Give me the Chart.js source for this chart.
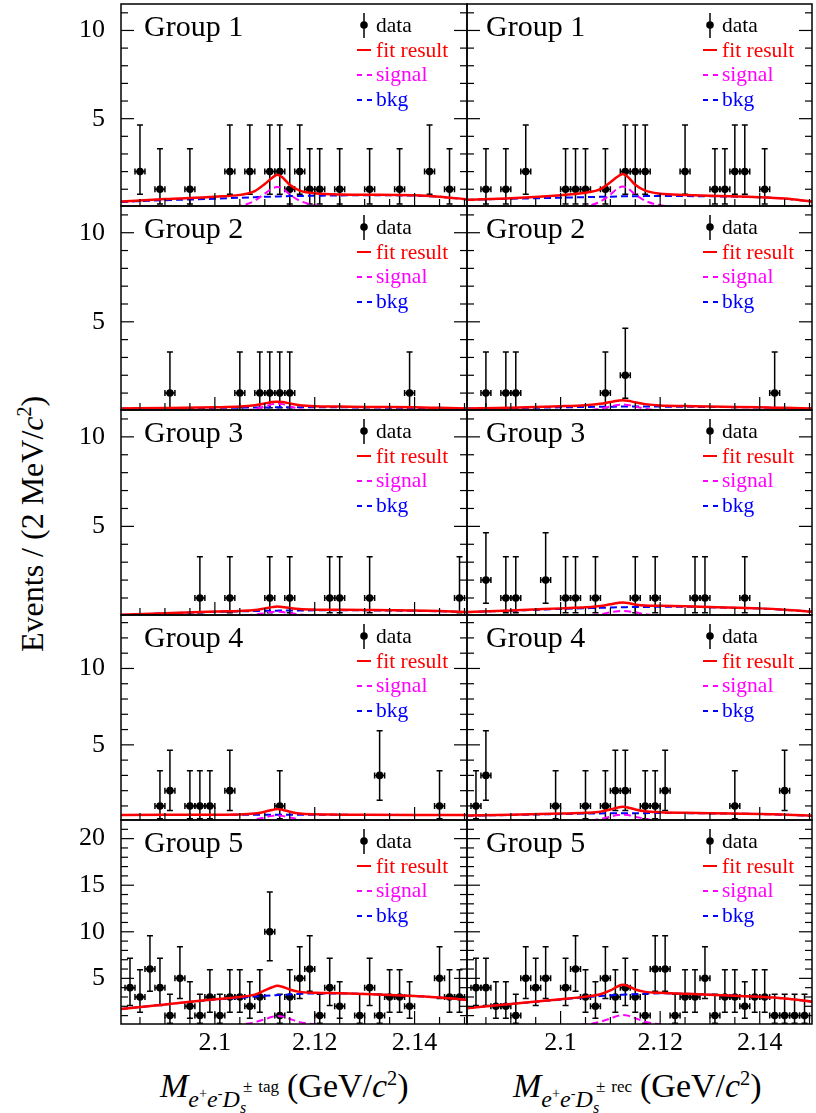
<!DOCTYPE html>
<html>
<head>
<meta charset="utf-8">
<title>Group fits</title>
<script src="https://cdn.jsdelivr.net/npm/chart.js@4.4.1/dist/chart.umd.min.js"></script>
<style>
  html, body { margin: 0; padding: 0; background: #fff; }
  #page { position: relative; width: 816px; height: 1113px; overflow: hidden;
          font-family: "Liberation Serif", "Times New Roman", Times, serif; color: #000; }
  #page canvas { position: absolute; left: 0; top: 0; }
  .ytitle { position: absolute; left: 8px; top: 652px; font-size: 32px; line-height: 32px;
            white-space: nowrap; transform-origin: 0 0; transform: rotate(-90deg); }
  .xtitle { position: absolute; top: 1061px; font-size: 34px; line-height: 34px; white-space: nowrap; }
  .xtitle .sb { font-size: 24px; position: relative; top: 10px; }
  .xtitle .ss { font-size: 16px; position: relative; top: 6px; display: inline-block; width: 0; }
  .xtitle .tg { font-size: 17px; position: relative; top: -15px; margin-left: 3px; margin-right: 8px; }
  .xtitle .tg span { margin-left: 6px; }
  .xtitle sup { font-size: 60%; }
</style>
</head>
<body>
<div id="page">
  <div class="ytitle">Events / (2 MeV/<i>c</i><sup style="font-size:20px">2</sup>)</div>
  <div class="xtitle" style="left:160px"><i>M</i><span class="sb"><i>e</i><sup>+</sup><i>e</i><sup>-</sup><i>D</i><span class="ss"><i>s</i></span><span class="tg">&#177;<span>tag</span></span></span>(GeV/<i>c</i><sup>2</sup>)</div>
  <div class="xtitle" style="left:513px"><i>M</i><span class="sb"><i>e</i><sup>+</sup><i>e</i><sup>-</sup><i>D</i><span class="ss"><i>s</i></span><span class="tg">&#177;<span>rec</span></span></span>(GeV/<i>c</i><sup>2</sup>)</div>
</div>
<script>
// ---- axes ----
const xMin = 2.0812, xMax = 2.1505;
const binWidth = 0.002;
const xLabelTicks = [2.1, 2.12, 2.14];
const xMinorTicks = [2.085, 2.09, 2.095, 2.105, 2.11, 2.115, 2.125, 2.13, 2.135, 2.145, 2.15];
const yMinByGroup = [0.05, 0.05, 0.05, 0.08, 0.1];
const yMaxByGroup = [11.5, 11.5, 11.5, 13.5, 22];
const yLabelTicks = [5, 10];
const yLabelTicksG5 = [5, 10, 15, 20];

// Poisson error bar ends, per count
const errCounts = [1, 2, 3, 4, 5, 6, 10];
const errLow = [0.17, 0.71, 1.37, 2.09, 2.84, 3.62, 6.89];
const errHigh = [3.30, 4.64, 5.92, 7.16, 8.38, 9.58, 14.27];

// x positions where the fit curves were read
const curveX = [2.0812, 2.09, 2.1, 2.105, 2.108, 2.110, 2.1115, 2.1125, 2.1135, 2.115, 2.117, 2.12, 2.125, 2.13, 2.14, 2.145, 2.1505];
const signalX = [2.104, 2.106, 2.108, 2.110, 2.1115, 2.1125, 2.1135, 2.115, 2.117, 2.119, 2.121];

// ---- Group 1 ----
const g1TagX = [2.085, 2.089, 2.095, 2.103, 2.107, 2.111, 2.113, 2.115, 2.117, 2.119, 2.121, 2.125, 2.131, 2.137, 2.143, 2.147];
const g1TagN = [2, 1, 1, 2, 2, 2, 2, 1, 2, 1, 1, 1, 1, 1, 2, 1];
const g1TagFit = [0.30, 0.44, 0.58, 0.68, 0.90, 1.30, 1.65, 1.82, 1.68, 1.25, 0.92, 0.77, 0.70, 0.69, 0.66, 0.58, 0.43];
const g1TagBkg = [0.28, 0.38, 0.46, 0.52, 0.55, 0.57, 0.58, 0.59, 0.60, 0.61, 0.62, 0.63, 0.65, 0.66, 0.64, 0.57, 0.42];
const g1TagSig = [0.02, 0.12, 0.35, 0.75, 1.05, 1.12, 1.05, 0.70, 0.35, 0.15, 0.05];

const g1RecX = [2.085, 2.089, 2.093, 2.101, 2.103, 2.105, 2.109, 2.113, 2.115, 2.117, 2.125, 2.131, 2.133, 2.135, 2.137, 2.141];
const g1RecN = [1, 1, 2, 1, 1, 1, 1, 2, 2, 2, 2, 1, 1, 2, 2, 1];
const g1RecFit = [0.40, 0.49, 0.66, 0.80, 1.00, 1.40, 1.72, 1.86, 1.70, 1.25, 0.92, 0.75, 0.68, 0.63, 0.55, 0.47, 0.30];
const g1RecBkg = [0.40, 0.46, 0.52, 0.55, 0.57, 0.58, 0.59, 0.60, 0.60, 0.60, 0.61, 0.61, 0.61, 0.60, 0.55, 0.47, 0.30];
const g1RecSig = [0.02, 0.10, 0.30, 0.70, 1.05, 1.15, 1.05, 0.70, 0.35, 0.15, 0.05];

// ---- Group 2 ----
const g2TagX = [2.091, 2.105, 2.109, 2.111, 2.113, 2.115, 2.139];
const g2TagN = [1, 1, 1, 1, 1, 1, 1];
const g2TagFit = [0.14, 0.16, 0.20, 0.24, 0.32, 0.42, 0.50, 0.52, 0.50, 0.42, 0.32, 0.26, 0.24, 0.22, 0.20, 0.17, 0.14];
const g2TagBkg = [0.13, 0.15, 0.17, 0.18, 0.19, 0.19, 0.20, 0.20, 0.20, 0.20, 0.20, 0.20, 0.20, 0.19, 0.17, 0.15, 0.13];
const g2TagSig = [0.00, 0.03, 0.10, 0.25, 0.38, 0.42, 0.38, 0.25, 0.10, 0.04, 0.00];

const g2RecX = [2.085, 2.089, 2.091, 2.109, 2.113, 2.143];
const g2RecN = [1, 1, 1, 1, 2, 1];
const g2RecFit = [0.14, 0.18, 0.26, 0.32, 0.40, 0.50, 0.57, 0.60, 0.57, 0.48, 0.38, 0.30, 0.27, 0.24, 0.20, 0.17, 0.14];
const g2RecBkg = [0.13, 0.16, 0.20, 0.22, 0.23, 0.23, 0.24, 0.24, 0.24, 0.24, 0.24, 0.24, 0.23, 0.22, 0.19, 0.16, 0.13];
const g2RecSig = [0.00, 0.04, 0.12, 0.25, 0.33, 0.36, 0.33, 0.25, 0.12, 0.05, 0.00];

// ---- Group 3 ----
const g3TagX = [2.097, 2.103, 2.111, 2.115, 2.123, 2.125, 2.131, 2.149];
const g3TagN = [1, 1, 1, 1, 1, 1, 1, 1];
const g3TagFit = [0.06, 0.15, 0.24, 0.28, 0.33, 0.42, 0.49, 0.52, 0.50, 0.44, 0.38, 0.35, 0.34, 0.33, 0.30, 0.27, 0.22];
const g3TagBkg = [0.05, 0.14, 0.22, 0.25, 0.27, 0.28, 0.29, 0.29, 0.30, 0.30, 0.30, 0.31, 0.31, 0.31, 0.28, 0.26, 0.21];
const g3TagSig = [0.00, 0.03, 0.08, 0.16, 0.22, 0.24, 0.22, 0.16, 0.08, 0.03, 0.00];

const g3RecX = [2.085, 2.089, 2.091, 2.097, 2.101, 2.103, 2.107, 2.115, 2.119, 2.127, 2.129, 2.137];
const g3RecN = [2, 1, 1, 2, 1, 1, 1, 1, 1, 1, 1, 1];
const g3RecFit = [0.22, 0.30, 0.42, 0.48, 0.55, 0.65, 0.72, 0.75, 0.72, 0.64, 0.58, 0.56, 0.54, 0.50, 0.42, 0.35, 0.24];
const g3RecBkg = [0.21, 0.29, 0.39, 0.43, 0.45, 0.47, 0.48, 0.48, 0.49, 0.50, 0.50, 0.51, 0.51, 0.48, 0.41, 0.34, 0.23];
const g3RecSig = [0.00, 0.04, 0.10, 0.20, 0.26, 0.28, 0.26, 0.20, 0.10, 0.04, 0.00];

// ---- Group 4 ----
const g4TagX = [2.089, 2.091, 2.095, 2.097, 2.099, 2.103, 2.113, 2.133, 2.145];
const g4TagN = [1, 2, 1, 1, 1, 2, 1, 3, 1];
const g4TagFit = [0.41, 0.42, 0.43, 0.44, 0.50, 0.62, 0.74, 0.80, 0.75, 0.62, 0.50, 0.45, 0.43, 0.42, 0.41, 0.41, 0.41];
const g4TagBkg = [0.40, 0.41, 0.41, 0.42, 0.42, 0.42, 0.42, 0.42, 0.42, 0.42, 0.42, 0.42, 0.42, 0.41, 0.41, 0.41, 0.40];
const g4TagSig = [0.00, 0.03, 0.10, 0.25, 0.35, 0.38, 0.35, 0.25, 0.10, 0.04, 0.00];

const g4RecX = [2.083, 2.085, 2.099, 2.105, 2.109, 2.111, 2.113, 2.117, 2.119, 2.121, 2.135, 2.145];
const g4RecN = [1, 3, 1, 1, 1, 2, 2, 1, 1, 2, 1, 2];
const g4RecFit = [0.37, 0.42, 0.50, 0.55, 0.62, 0.77, 0.90, 0.94, 0.90, 0.77, 0.65, 0.59, 0.55, 0.52, 0.48, 0.43, 0.36];
const g4RecBkg = [0.36, 0.41, 0.47, 0.50, 0.51, 0.52, 0.52, 0.53, 0.53, 0.53, 0.53, 0.54, 0.53, 0.51, 0.47, 0.42, 0.35];
const g4RecSig = [0.00, 0.05, 0.15, 0.30, 0.40, 0.42, 0.40, 0.30, 0.15, 0.05, 0.00];

// ---- Group 5 ----
const g5TagX = [2.083, 2.085, 2.087, 2.089, 2.091, 2.093, 2.095, 2.097, 2.099, 2.101, 2.103, 2.105, 2.107, 2.109, 2.111, 2.113,
                2.115, 2.117, 2.119, 2.121, 2.123, 2.125, 2.129, 2.131, 2.133, 2.135, 2.137, 2.139, 2.145, 2.147, 2.149];
const g5TagN = [4, 3, 6, 4, 1, 5, 2, 1, 3, 1, 3, 3, 2, 3, 10, 1, 3, 5, 6, 1, 4, 2, 1, 4, 1, 3, 3, 2, 5, 3, 3];
const g5TagFit = [1.72, 2.20, 2.75, 3.00, 3.25, 3.70, 4.05, 4.20, 4.10, 3.80, 3.55, 3.45, 3.40, 3.33, 3.10, 2.95, 2.68];
const g5TagBkg = [1.72, 2.20, 2.72, 2.90, 3.05, 3.12, 3.17, 3.20, 3.23, 3.28, 3.33, 3.38, 3.38, 3.33, 3.10, 2.95, 2.68];
const g5TagSig = [0.00, 0.10, 0.30, 0.60, 0.88, 0.97, 0.90, 0.65, 0.30, 0.12, 0.02];

const g5RecX = [2.083, 2.085, 2.087, 2.089, 2.091, 2.093, 2.095, 2.097, 2.101, 2.103, 2.105, 2.107, 2.109, 2.111, 2.113, 2.115, 2.117,
                2.119, 2.121, 2.123, 2.125, 2.127, 2.129, 2.131, 2.133, 2.135, 2.137, 2.139, 2.141, 2.143, 2.145, 2.147, 2.149];
const g5RecN = [4, 4, 2, 2, 1, 5, 4, 5, 4, 6, 3, 2, 5, 3, 4, 3, 1, 6, 6, 1, 3, 3, 5, 1, 3, 3, 2, 3, 3, 1, 1, 1, 1];
const g5RecFit = [1.79, 2.25, 2.75, 3.04, 3.30, 3.70, 4.15, 4.32, 4.20, 3.80, 3.55, 3.45, 3.35, 3.25, 3.02, 2.83, 2.50];
const g5RecBkg = [1.79, 2.25, 2.72, 2.98, 3.10, 3.18, 3.22, 3.25, 3.28, 3.30, 3.35, 3.40, 3.35, 3.25, 3.02, 2.83, 2.50];
const g5RecSig = [0.00, 0.12, 0.35, 0.70, 0.97, 1.07, 1.00, 0.72, 0.35, 0.13, 0.03];

const panels = [
  { group: 1, col: 0, x: g1TagX, n: g1TagN, fit: g1TagFit, bkg: g1TagBkg, sig: g1TagSig },
  { group: 1, col: 1, x: g1RecX, n: g1RecN, fit: g1RecFit, bkg: g1RecBkg, sig: g1RecSig },
  { group: 2, col: 0, x: g2TagX, n: g2TagN, fit: g2TagFit, bkg: g2TagBkg, sig: g2TagSig },
  { group: 2, col: 1, x: g2RecX, n: g2RecN, fit: g2RecFit, bkg: g2RecBkg, sig: g2RecSig },
  { group: 3, col: 0, x: g3TagX, n: g3TagN, fit: g3TagFit, bkg: g3TagBkg, sig: g3TagSig },
  { group: 3, col: 1, x: g3RecX, n: g3RecN, fit: g3RecFit, bkg: g3RecBkg, sig: g3RecSig },
  { group: 4, col: 0, x: g4TagX, n: g4TagN, fit: g4TagFit, bkg: g4TagBkg, sig: g4TagSig },
  { group: 4, col: 1, x: g4RecX, n: g4RecN, fit: g4RecFit, bkg: g4RecBkg, sig: g4RecSig },
  { group: 5, col: 0, x: g5TagX, n: g5TagN, fit: g5TagFit, bkg: g5TagBkg, sig: g5TagSig },
  { group: 5, col: 1, x: g5RecX, n: g5RecN, fit: g5RecFit, bkg: g5RecBkg, sig: g5RecSig }
];

// ---- page geometry ----
const PAGE_W = 816, PAGE_H = 1113;
const colLeft = [121, 467], colRight = [467, 813];
const rowTop = [3, 206, 410, 615, 820], rowBottom = [206, 410, 615, 820, 1024];
const FONT = '"Liberation Serif", "Times New Roman", Times, serif';
const RED = '#ff0000', MAGENTA = '#ff00ff', BLUE = '#0000ff';

function line(ctx, x0, y0, x1, y1) {
  ctx.beginPath(); ctx.moveTo(x0, y0); ctx.lineTo(x1, y1); ctx.stroke();
}

// frame, inward ticks, error bars, legend, group label
function decoPlugin(p) {
  return {
    id: 'deco' + p.group + p.col,
    beforeDatasetsDraw(chart) {
      const { ctx, chartArea: a } = chart;
      const xs = chart.scales.x, ys = chart.scales.y;
      ctx.save();
      ctx.beginPath();
      ctx.rect(a.left, a.top, a.right - a.left, a.bottom - a.top);
      ctx.clip();
      ctx.strokeStyle = '#000';
      ctx.lineWidth = 1.5;
      p.x.forEach((xv, i) => {
        const k = errCounts.indexOf(p.n[i]);
        const px = xs.getPixelForValue(xv);
        const py = ys.getPixelForValue(p.n[i]);
        const y0 = ys.getPixelForValue(errLow[k]);
        const y1 = ys.getPixelForValue(errHigh[k]);
        const xl = xs.getPixelForValue(xv - binWidth / 2);
        const xr = xs.getPixelForValue(xv + binWidth / 2);
        ctx.beginPath();
        ctx.moveTo(px, y0); ctx.lineTo(px, y1);
        ctx.moveTo(px - 3, y0); ctx.lineTo(px + 3, y0);
        ctx.moveTo(px - 3, y1); ctx.lineTo(px + 3, y1);
        ctx.moveTo(xl, py); ctx.lineTo(xr, py);
        ctx.moveTo(xl, py - 3); ctx.lineTo(xl, py + 3);
        ctx.moveTo(xr, py - 3); ctx.lineTo(xr, py + 3);
        ctx.stroke();
      });
      ctx.restore();
    },
    afterDraw(chart) {
      const { ctx, chartArea: a } = chart;
      const xs = chart.scales.x, ys = chart.scales.y;
      ctx.save();
      ctx.strokeStyle = '#000';
      ctx.lineWidth = 1.2;
      // x ticks on the bottom edge
      xLabelTicks.forEach(v => {
        const px = xs.getPixelForValue(v);
        line(ctx, px, a.bottom, px, a.bottom - 13);
      });
      xMinorTicks.forEach(v => {
        const px = xs.getPixelForValue(v);
        if (px > a.left + 1 && px < a.right - 1) line(ctx, px, a.bottom, px, a.bottom - 7);
      });
      // y ticks on both sides
      const yMax = yMaxByGroup[p.group - 1];
      for (let v = 1; v < yMax; v++) {
        const py = ys.getPixelForValue(v);
        const len = v % 5 === 0 ? 13 : 7;
        line(ctx, a.left, py, a.left + len, py);
        line(ctx, a.right, py, a.right - len, py);
      }
      // frame
      ctx.lineWidth = 1.5;
      ctx.strokeRect(a.left, a.top, a.right - a.left, a.bottom - a.top);

      // group label
      ctx.fillStyle = '#000';
      ctx.font = '30px ' + FONT;
      ctx.textAlign = 'left';
      ctx.textBaseline = 'alphabetic';
      ctx.fillText('Group ' + p.group, a.left + (p.col ? 19 : 23), a.top + 32);

      // legend
      const mx = a.left + 243, tx = a.left + 255, t = a.top;
      ctx.font = '21.5px ' + FONT;
      ctx.lineWidth = 1.5;
      line(ctx, mx, t + 9, mx, t + 34);
      ctx.beginPath(); ctx.arc(mx, t + 21, 3.8, 0, Math.PI * 2); ctx.fill();
      ctx.fillText('data', tx, t + 28);

      ctx.strokeStyle = RED; ctx.lineWidth = 2;
      line(ctx, a.left + 236, t + 46, a.left + 250, t + 46);
      ctx.fillStyle = RED;
      ctx.fillText('fit result', tx, t + 53);

      ctx.setLineDash([5, 5]);
      ctx.strokeStyle = MAGENTA;
      line(ctx, a.left + 236, t + 71, a.left + 251, t + 71);
      ctx.fillStyle = MAGENTA;
      ctx.fillText('signal', tx, t + 77);

      ctx.strokeStyle = BLUE;
      line(ctx, a.left + 236, t + 96, a.left + 251, t + 96);
      ctx.fillStyle = BLUE;
      ctx.fillText('bkg', tx, t + 102);
      ctx.restore();
    }
  };
}

function curve(xArr, yArr, color, width, dash, order) {
  return {
    data: xArr.map((x, i) => ({ x, y: yArr[i] })),
    borderColor: color,
    borderWidth: width,
    borderDash: dash,
    pointRadius: 0,
    fill: false,
    cubicInterpolationMode: 'monotone',
    clip: 0,
    order
  };
}

function buildPanel(p) {
  const row = p.group - 1;
  const L = colLeft[p.col], R = colRight[p.col], T = rowTop[row], B = rowBottom[row];
  const isBottom = row === 4, isLeft = p.col === 0;
  const yW = isLeft ? 60 : 0, xH = isBottom ? 40 : 0;

  const canvas = document.createElement('canvas');
  canvas.width = PAGE_W; canvas.height = PAGE_H;
  canvas.style.width = PAGE_W + 'px'; canvas.style.height = PAGE_H + 'px';
  document.getElementById('page').appendChild(canvas);

  const yTicks = p.group === 5 ? yLabelTicksG5 : yLabelTicks;

  return new Chart(canvas, {
    type: 'line',
    data: {
      datasets: [
        curve(curveX, p.fit, RED, 2.5, [], 1),
        curve(signalX, p.sig, MAGENTA, 2, [7, 4], 2),
        curve(curveX, p.bkg, BLUE, 2, [7, 4], 3),
        {
          data: p.x.map((x, i) => ({ x, y: p.n[i] })),
          showLine: false,
          pointRadius: 3.8,
          pointBackgroundColor: '#000',
          pointBorderWidth: 0,
          clip: 0,
          order: 4
        }
      ]
    },
    options: {
      responsive: false,
      animation: false,
      devicePixelRatio: 1,
      events: [],
      layout: { padding: { left: L - yW, right: PAGE_W - R, top: T, bottom: PAGE_H - B - xH } },
      plugins: { legend: { display: false }, tooltip: { enabled: false } },
      scales: {
        x: {
          type: 'linear', min: xMin, max: xMax,
          grid: { display: false, drawTicks: false },
          border: { display: false },
          ticks: {
            display: isBottom, padding: 4, color: '#000', autoSkip: false, maxRotation: 0,
            font: { family: FONT, size: 26 },
            callback: v => String(v)
          },
          afterBuildTicks: s => { s.ticks = xLabelTicks.map(v => ({ value: v })); },
          afterFit: s => { s.height = xH; s.paddingLeft = 0; s.paddingRight = 0; s.paddingTop = 0; s.paddingBottom = 0; }
        },
        y: {
          type: 'linear', min: yMinByGroup[row], max: yMaxByGroup[row],
          grid: { display: false, drawTicks: false },
          border: { display: false },
          ticks: {
            display: isLeft, padding: 16, color: '#000', autoSkip: false,
            font: { family: FONT, size: 26 },
            callback: v => String(v)
          },
          afterBuildTicks: s => { s.ticks = yTicks.map(v => ({ value: v })); },
          afterFit: s => { s.width = yW; s.paddingLeft = 0; s.paddingRight = 0; s.paddingTop = 0; s.paddingBottom = 0; }
        }
      }
    },
    plugins: [decoPlugin(p)]
  });
}

panels.forEach(buildPanel);
</script>
</body>
</html>
